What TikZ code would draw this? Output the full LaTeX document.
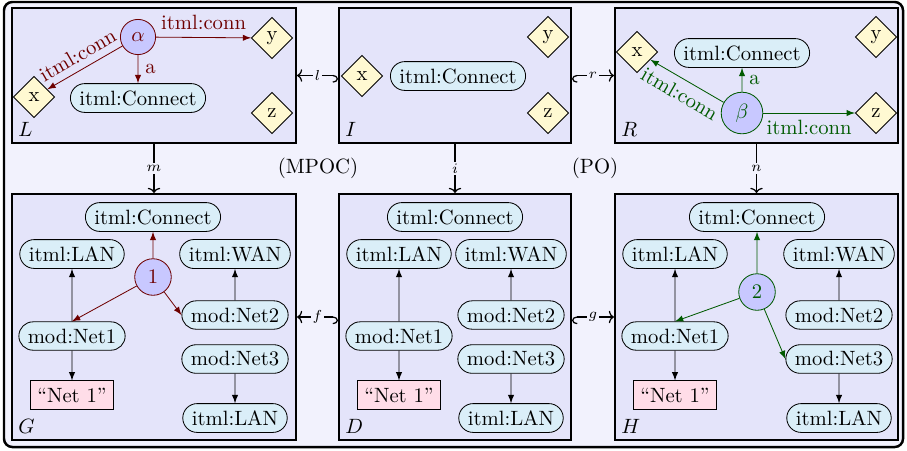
\documentclass[tikz,border=0pt]{standalone}
\usepackage{amsmath,amssymb}
\usepackage{tikz}
\usepackage{xcolor}
\usetikzlibrary{arrows,arrows.meta,shapes.geometric,shapes.misc,fit}

\definecolor{outerbg}{HTML}{F2F2FD}
\definecolor{panelbg}{HTML}{E4E4FA}
\definecolor{resbg}{HTML}{DAEEF8}
\definecolor{prmbg}{HTML}{FFF9D2}
\definecolor{litbg}{HTML}{FFDDE8}
\definecolor{rulebg}{HTML}{C8C8FF}
\definecolor{lhs}{HTML}{6E0000}
\definecolor{rhs}{HTML}{005A00}

\tikzset{
  panel/.style={draw, line width=1pt, fill=panelbg, inner sep=0pt},
  res/.style={draw, rounded rectangle, fill=resbg},
  lit/.style={draw, rectangle, fill=litbg},
  prm/.style={draw, diamond, fill=prmbg, minimum size=20pt, inner sep=1pt},
  rul/.style={draw=#1, text=#1, circle, fill=rulebg},
  emb/.style={semithick, -{To[length=2.5pt,width=6pt]}},
  hk/.style={emb, {Hooks[#1,length=2.5pt,width=7pt]}-{To[length=2.5pt,width=6pt]}},
  lbl/.style={fill=outerbg, inner sep=1pt, font=\scriptsize},
}

\begin{document}
\begin{tikzpicture}[x=0.017cm, y=-0.017cm]
\useasboundingbox (0,0) rectangle (907,450);
\draw[very thick, rounded corners=4pt, fill=outerbg] (4,2) rectangle (903,447);

% panels
\node[panel, fit={(12,8) (296,143)}] (L) {};
\node[panel, fit={(339,8) (571,143)}] (I) {};
\node[panel, fit={(615,8) (898,143)}] (R) {};
\node[panel, fit={(12,194) (296,440)}] (G) {};
\node[panel, fit={(339,194) (571,440)}] (D) {};
\node[panel, fit={(615,194) (898,440)}] (H) {};
\node[anchor=south west] (Llab) at (L.south west) {$L$};
\node[anchor=south west] (Ilab) at (I.south west) {$I$};
\node[anchor=south west] (Rlab) at (R.south west) {$R$};
\node[anchor=south west] (Glab) at (G.south west) {$G$};
\node[anchor=south west] (Dlab) at (D.south west) {$D$};
\node[anchor=south west] (Hlab) at (H.south west) {$H$};

% L
\node[rul=lhs] (a0) at (138,37) {$\alpha$};
\node[prm] (Lx) at (34,97) {x};
\node[prm] (Ly) at (272,38) {y};
\node[prm] (Lz) at (272,113) {z};
\node[res] (Lc) at (138,98) {itml:Connect};
\draw[lhs, -latex] (a0) -- node[above] {itml:conn} (Ly);
\draw[lhs, -latex] (a0) -- node[right] {a} (Lc);
\draw[lhs, -latex] (a0) -- node[above, sloped] {itml:conn} (Lx);

% I
\node[prm] (Ix) at (362,76) {x};
\node[res] (Ic) at (458,76) {itml:Connect};
\node[prm] (Iy) at (548,37) {y};
\node[prm] (Iz) at (548,113) {z};

% R
\node[prm] (Rx) at (637,52) {x};
\node[res] (Rc) at (742,53) {itml:Connect};
\node[prm] (Ry) at (876,37) {y};
\node[rul=rhs] (b0) at (742,113) {$\beta$};
\node[prm] (Rz) at (876,113) {z};
\draw[rhs, -latex] (b0) -- node[below, sloped] {itml:conn} (Rx);
\draw[rhs, -latex] (b0) -- node[right] {a} (Rc);
\draw[rhs, -latex] (b0) -- node[below] {itml:conn} (Rz);

% G
\node[res] (Gc) at (153,217) {itml:Connect};
\node[res] (Glan) at (72,254) {itml:LAN};
\node[res] (Gwan) at (235,254) {itml:WAN};
\node[rul=lhs] (g1) at (153,277) {1};
\node[res] (Gn2) at (235,315) {mod:Net2};
\node[res] (Gn1) at (72,336) {mod:Net1};
\node[res] (Gn3) at (235,359) {mod:Net3};
\node[lit] (Gs) at (72,395) {``Net 1''};
\node[res] (Glan2) at (235,418) {itml:LAN};
\draw[-latex] (Gn1) -- (Glan);
\draw[-latex] (Gn1) -- (Gs);
\draw[-latex] (Gn2) -- (Gwan);
\draw[-latex] (Gn3) -- (Glan2);
\draw[lhs, -latex] (g1) -- (Gc);
\draw[lhs, -latex] (g1) -- (Gn1.north);
\draw[lhs, -latex] (g1) -- (Gn2.west);

% D
\node[res] (Dc) at (455,217) {itml:Connect};
\node[res] (Dlan) at (399,254) {itml:LAN};
\node[res] (Dwan) at (511,254) {itml:WAN};
\node[res] (Dn2) at (511,315) {mod:Net2};
\node[res] (Dn1) at (399,336) {mod:Net1};
\node[res] (Dn3) at (511,359) {mod:Net3};
\node[lit] (Ds) at (399,395) {``Net 1''};
\node[res] (Dlan2) at (511,418) {itml:LAN};
\draw[-latex] (Dn1) -- (Dlan);
\draw[-latex] (Dn1) -- (Ds);
\draw[-latex] (Dn2) -- (Dwan);
\draw[-latex] (Dn3) -- (Dlan2);

% H
\node[res] (Hc) at (757,217) {itml:Connect};
\node[res] (Hlan) at (675,254) {itml:LAN};
\node[res] (Hwan) at (839,254) {itml:WAN};
\node[rul=rhs] (h2) at (757,292) {2};
\node[res] (Hn2) at (839,315) {mod:Net2};
\node[res] (Hn1) at (675,336) {mod:Net1};
\node[res] (Hn3) at (839,359) {mod:Net3};
\node[lit] (Hs) at (675,395) {``Net 1''};
\node[res] (Hlan2) at (839,418) {itml:LAN};
\draw[-latex] (Hn1) -- (Hlan);
\draw[-latex] (Hn1) -- (Hs);
\draw[-latex] (Hn2) -- (Hwan);
\draw[-latex] (Hn3) -- (Hlan2);
\draw[rhs, -latex] (h2) -- (Hc);
\draw[rhs, -latex] (h2) -- (Hn1.north);
\draw[rhs, -latex] (h2) -- (Hn3.west);

% morphisms
\draw[hk=right] (I) -- node[lbl] {$l$} (L);
\draw[hk=left] (I) -- node[lbl] {$r$} (R);
\draw[hk=right] (D) -- node[lbl] {$f$} (G);
\draw[hk=left] (D) -- node[lbl] {$g$} (H);
\draw[emb] (L) -- node[lbl] {$m$} (G);
\draw[emb] (I) -- node[lbl] {$i$} (D);
\draw[emb] (R) -- node[lbl] {$n$} (H);
\node (mpoc) at (318,168) {(MPOC)};
\node (po) at (595,168) {(PO)};
\end{tikzpicture}
\end{document}
